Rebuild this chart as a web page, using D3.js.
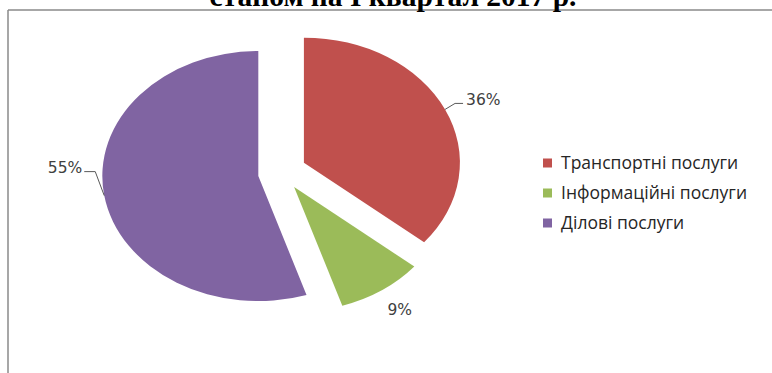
<!DOCTYPE html>
<html>
<head>
<meta charset="utf-8">
<script src="https://cdn.jsdelivr.net/npm/d3@7"></script>
<style>
  html, body { margin: 0; padding: 0; background: #fff; }
  svg { display: block; }
</style>
</head>
<body>
<svg id="chart" width="772" height="373"></svg>
<script>
// Service categories and their shares (%)
const categories = ["Транспортні послуги", "Інформаційні послуги", "Ділові послуги"];
const shares = [36, 9, 55];
const colors = ["#C0504D", "#9BBB59", "#8064A2"];
const titleText = "станом на I квартал 2017 р.";

const W = 772, H = 373;
const svg = d3.select("#chart");

// Frame: top rule and left rule
svg.append("line").attr("x1", 8).attr("x2", W).attr("y1", 10).attr("y2", 10)
  .attr("stroke", "#8a8a8a").attr("stroke-width", 1.5);
svg.append("line").attr("x1", 8).attr("x2", 8).attr("y1", 10).attr("y2", H)
  .attr("stroke", "#8a8a8a").attr("stroke-width", 1.5);

// Title (sits above the frame, partly clipped by the page edge)
svg.append("text")
  .attr("x", 393).attr("y", 6)
  .attr("text-anchor", "middle")
  .attr("font-family", "'Liberation Serif', 'Times New Roman', serif")
  .attr("font-weight", "bold")
  .attr("font-size", 29.5)
  .attr("fill", "#000")
  .text(titleText);

// Pie layout: elliptical pie (stretched horizontally), exploded slices
const cx = 284, cy = 172;
const ry = 125, rx = 156;
const explode = [22, 18, 26];

const pie = d3.pie().sort(null).value(d => d);
const arcs = pie(shares);
const arc = d3.arc().innerRadius(0).outerRadius(ry);

function offset(a, d) {
  const m = (a.startAngle + a.endAngle) / 2;
  return [Math.sin(m) * d, -Math.cos(m) * d];
}
function onEdge(a, d) {
  const m = (a.startAngle + a.endAngle) / 2;
  const o = offset(a, d);
  return [cx + o[0] + Math.sin(m) * rx, cy + o[1] - Math.cos(m) * ry];
}

const g = svg.append("g");
g.selectAll("path.slice")
  .data(arcs)
  .join("path")
  .attr("class", "slice")
  .attr("d", arc)
  .attr("fill", (d, i) => colors[i])
  .attr("transform", (d, i) => {
    const o = offset(d, explode[i]);
    return `translate(${cx + o[0]},${cy + o[1]}) scale(${rx / ry},1)`;
  });

// Data labels with leader lines
const labelFont = "'DejaVu Sans', Verdana, sans-serif";
const labelSize = 15.5;
const labelColor = "#404040";
const leaderColor = "#595959";

// 36% (right, with elbow leader)
{
  const i = 0, p = onEdge(arcs[i], explode[i]);
  const elbow = [p[0] + 10, p[1] - 6];
  const end = [elbow[0] + 8, elbow[1]];
  svg.append("path")
    .attr("d", d3.line()([p, elbow, end]))
    .attr("fill", "none").attr("stroke", leaderColor).attr("stroke-width", 1);
  svg.append("text")
    .attr("x", end[0] + 3).attr("y", end[1] - 4).attr("dy", "0.35em")
    .attr("font-family", labelFont).attr("font-size", labelSize).attr("fill", labelColor)
    .text(shares[i] + "%");
}
// 9% (below the slice, no leader)
{
  const i = 1, p = onEdge(arcs[i], explode[i]);
  svg.append("text")
    .attr("x", p[0] + 18).attr("y", p[1] + 19).attr("dy", "0.35em")
    .attr("text-anchor", "middle")
    .attr("font-family", labelFont).attr("font-size", labelSize).attr("fill", labelColor)
    .text(shares[i] + "%");
}
// 55% (left, with elbow leader)
{
  const i = 2, p = onEdge(arcs[i], explode[i]);
  const elbow = [p[0] - 9, p[1] - 24];
  const end = [elbow[0] - 11, elbow[1]];
  svg.append("path")
    .attr("d", d3.line()([p, elbow, end]))
    .attr("fill", "none").attr("stroke", leaderColor).attr("stroke-width", 1);
  svg.append("text")
    .attr("x", end[0] - 2).attr("y", end[1] - 4).attr("dy", "0.35em")
    .attr("text-anchor", "end")
    .attr("font-family", labelFont).attr("font-size", labelSize).attr("fill", labelColor)
    .text(shares[i] + "%");
}

// Legend
const legend = svg.append("g").attr("transform", "translate(543,163)");
const rows = legend.selectAll("g")
  .data(categories)
  .join("g")
  .attr("transform", (d, i) => `translate(0,${i * 30})`);
rows.append("rect")
  .attr("x", 0).attr("y", -4.5).attr("width", 9).attr("height", 9)
  .attr("fill", (d, i) => colors[i]);
rows.append("text")
  .attr("x", 18).attr("y", 0).attr("dy", "0.35em")
  .attr("font-family", "'Open Sans', 'Noto Sans', sans-serif")
  .attr("font-size", 17.5)
  .attr("fill", "#262626")
  .text(d => d);
</script>
</body>
</html>
